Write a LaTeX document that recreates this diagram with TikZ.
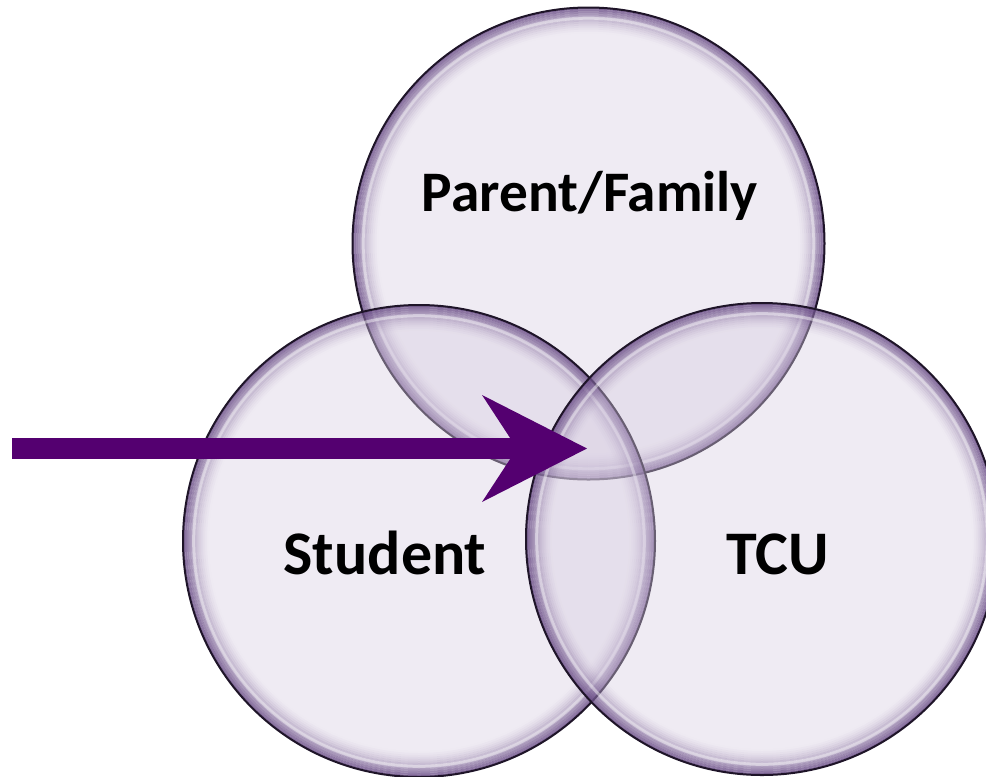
\documentclass[tikz,border=0pt]{standalone}
\usepackage{fontspec}
\setmainfont{Carlito}
\usetikzlibrary{arrows.meta}
\definecolor{bubfill}{RGB}{215,205,225}
\definecolor{ringpurple}{RGB}{88,56,120}
\definecolor{rimdark}{RGB}{30,20,40}
\definecolor{arrowpurple}{RGB}{84,0,112}
\tikzset{
  bubble/.style={fill=bubfill, fill opacity=0.4},
  rim/.style={draw=rimdark, line width=1.5pt},
  shine/.style={draw=white, line width=2.25pt, draw opacity=0.45},
  ringtext/.style={text=black, anchor=base, inner sep=0pt},
  bigarrow/.style={draw=arrowpurple, line width=15.75pt,
    -{Stealth[length=78.75pt, width=80.25pt, inset=26.25pt, line width=0pt]}}
}
\begin{document}
\begin{tikzpicture}[x=0.75pt, y=-0.75pt]
  \useasboundingbox (0,0) rectangle (986,776);
  \clip (0,0) rectangle (986,776);
  \coordinate (family) at (588.5,243.5);
  \coordinate (student) at (419,541);
  \coordinate (tcu) at (762,539);
  % the three bubbles
  \foreach \c in {family,student,tcu}{
    \fill[bubble] (\c) circle[radius=177pt];
    \foreach \k [evaluate=\k as \op using {0.72*(1-\k/13)^1.7}] in {0,...,12}
      \draw[ringpurple, line width=1.5pt, draw opacity=\op] (\c) circle[radius={177pt-\k*1.5pt-0.75pt}];
    \draw[shine] (\c) circle[radius=169pt];
    \draw[rim] (\c) circle[radius=177pt];
  }
  \node[ringtext, font=\bfseries\fontsize{43}{50}\selectfont] (familytext) at (590,211) {Parent/Family};
  \node[ringtext, font=\bfseries\fontsize{46.5}{54}\selectfont] (studenttext) at (385,574) {Student};
  \node[ringtext, font=\bfseries\fontsize{46.5}{54}\selectfont] (tcutext) at (777.5,574) {TCU};
  % arrow into the middle
  \coordinate (start) at (12,448.5);
  \coordinate (hub) at (587,448.5);
  \draw[bigarrow] (start) -- (hub);
\end{tikzpicture}
\end{document}
